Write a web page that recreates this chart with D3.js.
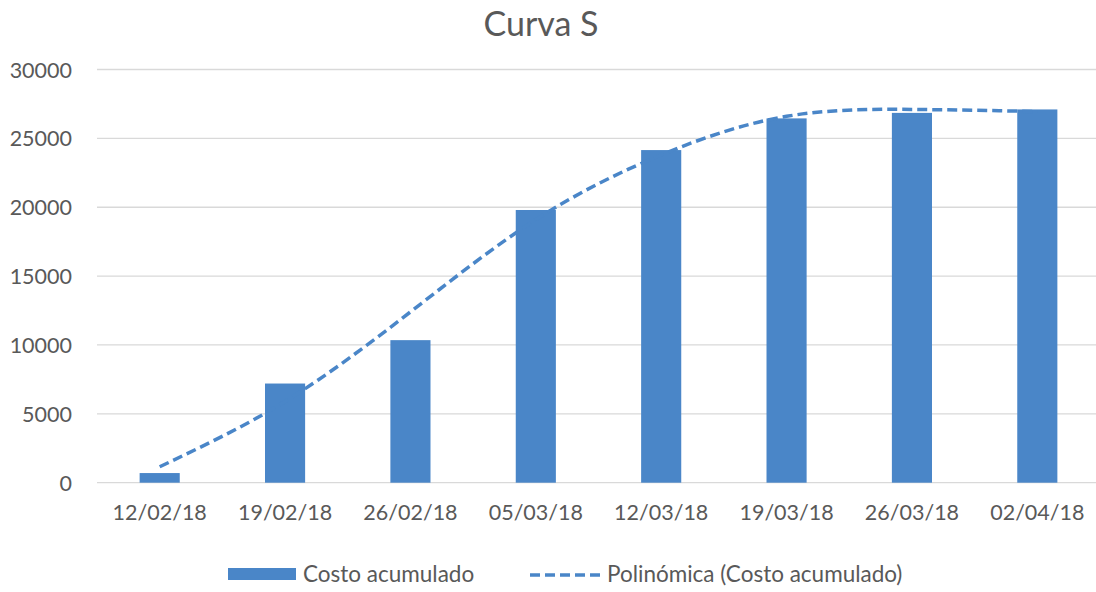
<!DOCTYPE html>
<html>
<head>
<meta charset="utf-8">
<script src="https://cdn.jsdelivr.net/npm/d3@7/dist/d3.min.js"></script>
<style>
  html, body { margin: 0; padding: 0; background: #fff; }
  svg { display: block; }
  text { font-family: Lato, "Open Sans", sans-serif; fill: #595959; }
</style>
</head>
<body>
<svg id="chart" width="1096" height="592"></svg>
<script>
const categories = ["12/02/18", "19/02/18", "26/02/18", "05/03/18", "12/03/18", "19/03/18", "26/03/18", "02/04/18"];
const costoAcumulado = [700, 7200, 10350, 19800, 24150, 26450, 26850, 27100];
const polinomica = [1160, 5900, 12400, 19100, 23800, 26600, 27100, 26950];
const yTicks = [0, 5000, 10000, 15000, 20000, 25000, 30000];
const title = "Curva S";
const seriesName = "Costo acumulado";
const trendName = "Polinómica (Costo acumulado)";

const color = "#4A86C8";
const svg = d3.select("#chart");

const x = d3.scaleBand().domain(categories).range([97, 1100]).paddingInner(0.68).paddingOuter(0.34);
const y = d3.scaleLinear().domain([0, 30000]).range([482.7, 69.5]);

// title
svg.append("text").attr("x", 541).attr("y", 36).attr("text-anchor", "middle")
  .style("font-size", "34px").text(title);

// gridlines
svg.append("g").selectAll("line").data(yTicks).join("line")
  .attr("x1", 97).attr("x2", 1100)
  .attr("y1", d => y(d)).attr("y2", d => y(d))
  .attr("stroke", "#D9D9D9").attr("stroke-width", 1.3);

// y axis labels
const yAxis = d3.axisLeft(y).tickValues(yTicks).tickSize(0).tickPadding(0).tickFormat(d3.format("d"));
const gy = svg.append("g").attr("transform", "translate(72,0)").call(yAxis);
gy.select(".domain").remove();
gy.selectAll("text").style("font-size", "21.5px").style("fill", "#595959")
  .style("font-family", "Lato, 'Open Sans', sans-serif").attr("dy", "0.35em");

// x axis labels
const xAxis = d3.axisBottom(x).tickSize(0).tickPadding(0);
const gx = svg.append("g").attr("transform", "translate(0,500)").call(xAxis);
gx.select(".domain").remove();
gx.selectAll("text").style("font-size", "21.5px").style("fill", "#595959")
  .style("font-family", "Lato, 'Open Sans', sans-serif").attr("dy", "0.95em");

// bars
svg.append("g").selectAll("rect").data(costoAcumulado).join("rect")
  .attr("x", (d, i) => x(categories[i]))
  .attr("width", x.bandwidth())
  .attr("y", d => y(d))
  .attr("height", d => y(0) - y(d))
  .attr("fill", color);

// trend line
const line = d3.line()
  .x((d, i) => x(categories[i]) + x.bandwidth() / 2)
  .y(d => y(d))
  .curve(d3.curveNatural);
svg.append("path").datum(polinomica).attr("d", line)
  .attr("fill", "none").attr("stroke", color).attr("stroke-width", 3.5)
  .attr("stroke-dasharray", "10,5");

// legend
const lg = svg.append("g");
lg.append("rect").attr("x", 228).attr("y", 568).attr("width", 68).attr("height", 12).attr("fill", color);
lg.append("text").attr("x", 303).attr("y", 582).style("font-size", "22.5px").text(seriesName);
lg.append("line").attr("x1", 530).attr("x2", 603).attr("y1", 575).attr("y2", 575)
  .attr("stroke", color).attr("stroke-width", 3.5).attr("stroke-dasharray", "10,5");
lg.append("text").attr("x", 607).attr("y", 582).style("font-size", "22.5px").text(trendName);
</script>
</body>
</html>
